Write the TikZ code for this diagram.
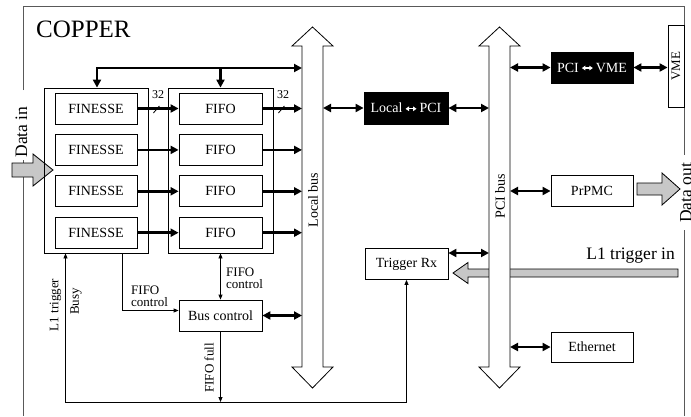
\documentclass[tikz,border=0pt]{standalone}
\usepackage{fontspec}
\setmainfont{Liberation Serif}
\usetikzlibrary{arrows.meta, positioning, calc}

\newcommand\lrarrow{\tikz[baseline={(0pt,-4pt)}]\draw[white, line width=1.3pt, {Triangle[length=3.5pt,width=4.5pt]}-{Triangle[length=3.5pt,width=4.5pt]}] (0pt,0pt) -- (11pt,0pt);}

\tikzset{
	unitbox/.style={draw, fill=white, line width=0.8pt, minimum width=83pt, minimum height=31pt, inner sep=0pt, font=\fontsize{14}{16}\selectfont},
	darkbox/.style={unitbox, fill=black, text=white},
	groupbox/.style={draw, line width=0.8pt, inner sep=0pt}
}
\tikzset{
	busline/.style={line width=2.6pt, -{Triangle[length=8pt,width=8pt]}},
	busboth/.style={line width=2.6pt, {Triangle[length=8pt,width=8pt]}-{Triangle[length=8pt,width=8pt]}},
	sigline/.style={line width=0.8pt, -{Triangle[length=5pt,width=4pt]}},
	sigboth/.style={line width=0.8pt, {Triangle[length=5pt,width=4pt]}-{Triangle[length=5pt,width=4pt]}}
}
\tikzset{
	smalltext/.style={font=\fontsize{13}{12}\selectfont, inner sep=0pt, align=left},
	bigtext/.style={font=\fontsize{17.5}{18}\selectfont, inner sep=0pt},
	fatarrow/.style={draw, line width=0.8pt, fill=black!22},
	frame/.style={line width=0.8pt, black!65}
}
\tikzset{
	busarrow/.pic={
			\draw[line width=0.8pt, fill=white]
			(-10.5,46) -- (-20.5,46) -- (0,27) -- (20.5,46) -- (10.5,46) --
			(10.5,367) -- (20.5,367) -- (0,388) -- (-20.5,367) -- (-10.5,367) -- cycle;
		}
}

\begin{document}
\begin{tikzpicture}[x=1pt, y=-1pt]
	\useasboundingbox (0,0) rectangle (691,416);

	% board outline
	\draw[frame] (23,90) -- (23,6) -- (684,6) -- (684,25);
	\draw[frame] (23,160) -- (23,416);
	\draw[frame] (684,107) -- (684,155);
	\draw[frame] (684,230) -- (684,416);
	\node[font=\fontsize{25}{25}\selectfont, inner sep=0pt, anchor=west] (copper) at (36,29) {COPPER};

	\node[bigtext, rotate=90] (datain) at (21.5,132) {Data in};
	\node[bigtext, rotate=90] (dataout) at (686,193) {Data out};
	\draw[fatarrow] (12,163) -- (33,163) -- (33,154) -- (53,170) -- (33,186) -- (33,177) -- (12,177) -- cycle;
	\draw[fatarrow] (637,183) -- (662,183) -- (662,173) -- (680,189) -- (662,205) -- (662,195) -- (637,195) -- cycle;

	% trigger input passes under the PCI bus
	\draw[fatarrow] (678,269) -- (468,269) -- (468,262.5) -- (453,273) -- (468,283.5) -- (468,277) -- (678,277) -- cycle;
	\node[bigtext, anchor=base east] (l1in) at (675,259) {L1 trigger in};

	% buses
	\pic at (312.5,0) {busarrow};
	\pic at (499.5,0) {busarrow};
	\coordinate (lbusL) at (302,0);
	\coordinate (lbusR) at (323,0);
	\coordinate (pbusL) at (489,0);
	\coordinate (pbusR) at (510,0);
	\node[font=\fontsize{14}{14}\selectfont, rotate=90] (lbuslabel) at (313,200) {Local bus};
	\node[font=\fontsize{14}{14}\selectfont, rotate=90] (pbuslabel) at (500,196) {PCI bus};

	% FINESSE and FIFO cards
	\node[groupbox, minimum width=104pt, minimum height=165pt] (fingrp) at (96,170.5) {};
	\node[groupbox, minimum width=105pt, minimum height=165pt] (fifogrp) at (220.5,170.5) {};
	\foreach \i/\y in {1/108.5, 2/149.9, 3/191.3, 4/232.7} {
			\node[unitbox, minimum width=82pt] (fin\i) at (96,\y) {FINESSE};
			\node[unitbox] (fifo\i) at (220.5,\y) {FIFO};
			\draw[busline] (fin\i.east) -- (fifo\i.west);
			\draw[busline] (fifo\i.east) -- (fifo\i.east -| lbusL);
		}

	\draw[line width=0.8pt] ($(fin1.east)+(16,4.5)$) -- ++(6,-7);
	\draw[line width=0.8pt] ($(fifo1.east)+(16,4.5)$) -- ++(6,-7);
	\node[font=\fontsize{12}{12}\selectfont, inner sep=0pt] (w1) at (158,95) {32};
	\node[font=\fontsize{12}{12}\selectfont, inner sep=0pt] (w2) at (283,95) {32};

	\coordinate (fbk) at (97,68);
	\draw[busboth] (fingrp.north -| fbk) |- (lbusL |- fbk);
	\draw[busline] (fifogrp.north |- fbk) -- (fifogrp.north);

	% bridges and PCI devices
	\node[darkbox, minimum width=84pt, minimum height=32pt] (lpci) at (406,108) {Local\,\lrarrow\,PCI};
	\node[darkbox, minimum width=82pt] (pcivme) at (592,67.5) {PCI\,\lrarrow\,VME};
	\node[draw, fill=white, line width=0.8pt, rotate=90, minimum width=82pt, minimum height=16pt, inner sep=0pt, font=\fontsize{13}{13}\selectfont] (vme) at (676,66) {VME};
	\node[unitbox, minimum width=82pt] (prpmc) at (592,191) {PrPMC};
	\node[unitbox, minimum width=82pt, minimum height=30pt] (ether) at (592,347) {Ethernet};
	\node[unitbox] (trigrx) at (406.5,264) {Trigger Rx};

	\draw[busboth] (lpci.west) -- (lpci.west -| lbusR);
	\draw[busboth] (lpci.east) -- (lpci.east -| pbusL);
	\draw[busboth] (pcivme.west) -- (pcivme.west -| pbusR);
	\draw[busboth] (pcivme.east) -- (pcivme.east -| vme.north);
	\draw[busboth] (prpmc.west) -- (prpmc.west -| pbusR);
	\draw[busboth] (ether.west) -- (ether.west -| pbusR);
	\draw[busboth] ([yshift=11pt]trigrx.east) -- ([yshift=11pt]trigrx.east -| pbusL);

	% control logic
	\node[unitbox] (busctl) at (220.5,315.5) {Bus control};
	\draw[busboth] (busctl.east) -- (busctl.east -| lbusL);
	\draw[sigboth] (fifogrp.south) -- (busctl.north);
	\node[smalltext, anchor=west] (fctl1) at (226,278) {FIFO\\control};

	\coordinate (fctlx) at (122,0);
	\draw[sigline] (fingrp.south -| fctlx) |- ([yshift=5pt]busctl.west);
	\node[smalltext, anchor=west] (fctl2) at (131,296) {FIFO\\control};

	\coordinate (bottomY) at (0,402);
	\coordinate (busyx) at (65.5,0);
	\draw[sigline] (busctl.south) -- (busctl.south |- bottomY);
	\node[smalltext, rotate=90] (ffull) at (209,368) {FIFO full};
	\draw[sigboth] (fingrp.south -| busyx) -- (busyx |- bottomY) -| (trigrx.south);
	\node[smalltext, rotate=90] (l1trig) at (55.5,305) {L1 trigger};
	\node[smalltext, rotate=90] (busy) at (76,301.5) {Busy};

\end{tikzpicture}
\end{document}
